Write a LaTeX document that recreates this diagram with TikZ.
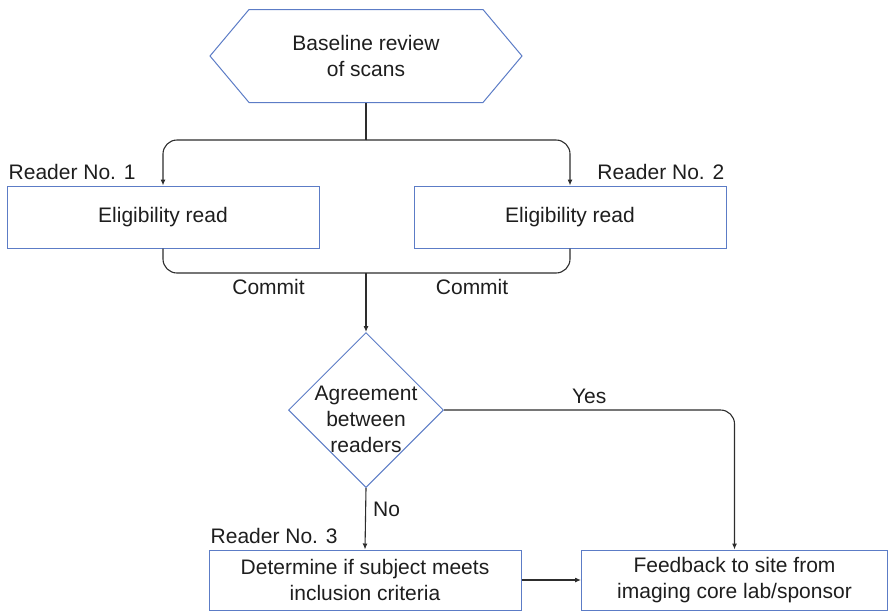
\documentclass[tikz,border=0pt]{standalone}
\usepackage{fontspec}
\setmainfont{Liberation Sans}
\usetikzlibrary{arrows.meta, positioning, shapes.geometric, shapes.symbols}
\definecolor{boxblue}{RGB}{92,124,198}
\definecolor{linegray}{RGB}{45,45,45}
\definecolor{txtgray}{RGB}{30,30,30}

\begin{document}
\begin{tikzpicture}[
    x=1pt, y=-1pt,
    font=\fontsize{21}{26}\selectfont, text=txtgray,
    outline/.style={draw=boxblue, line width=1pt},
    readbox/.style={outline, rectangle, minimum width=312pt, minimum height=62pt, align=center},
    hexbox/.style={outline, signal, signal to=west and east, signal pointer angle=100,
                   minimum width=312pt, minimum height=93pt, align=center},
    decision/.style={outline, diamond, minimum width=155pt, minimum height=155pt,
                     inner sep=-12pt, align=center},
    line/.style={draw=linegray, line width=1.1pt, rounded corners=14pt},
    arrow/.style={line, -{Latex[length=6pt, width=5pt]}},
    tag/.style={inner xsep=2pt, inner ysep=6pt}
]
    \useasboundingbox (0,0) rectangle (889,611);
    \node[hexbox] (baseline) at (366,56) {Baseline review\\of scans};
    \node[readbox] (read1) at (163,217) {Eligibility read};
    \node[readbox] (read2) at (570,217) {Eligibility read};
    \node[decision] (agree) at (366,410) {\rule{0pt}{33pt}Agreement\\between\\readers};
    \node[readbox, minimum height=60pt] (determine) at (365,580) {Determine if subject meets\\inclusion criteria};
    \node[readbox, minimum height=60pt, minimum width=306pt] (feedback) at (734.5,580) {Feedback to site from\\imaging core lab/sponsor};
    % reader tags
    \node[tag, anchor=south west] (r1) at (read1.north west) {Reader No. 1};
    \node[tag, anchor=south east] (r2) at (read2.north east) {Reader No. 2};
    \node[tag, anchor=south west] (r3) at (determine.north west) {Reader No. 3};
    % split and merge
    \coordinate (split) at (366,140);
    \coordinate (merge) at (366,273);
    \draw[line] (baseline.south) -- (split);
    \draw[arrow] (split) -| (read1.north); \draw[arrow] (split) -| (read2.north);
    \draw[line] (read1.south) |- node[tag, pos=0.76, below]{Commit} (merge) -| node[tag, pos=0.26, below]{Commit} (read2.south);
    \draw[arrow] (merge) -- (agree.north);
    \draw[arrow] (agree.east) -| node[tag, pos=0.25, above]{Yes} (feedback.north);
    \draw[arrow] (agree.south) -- node[tag, pos=0.35, right, inner xsep=7pt]{No} (determine.north);
    \draw[arrow] (determine.east) -- (feedback.west);
\end{tikzpicture}
\end{document}
